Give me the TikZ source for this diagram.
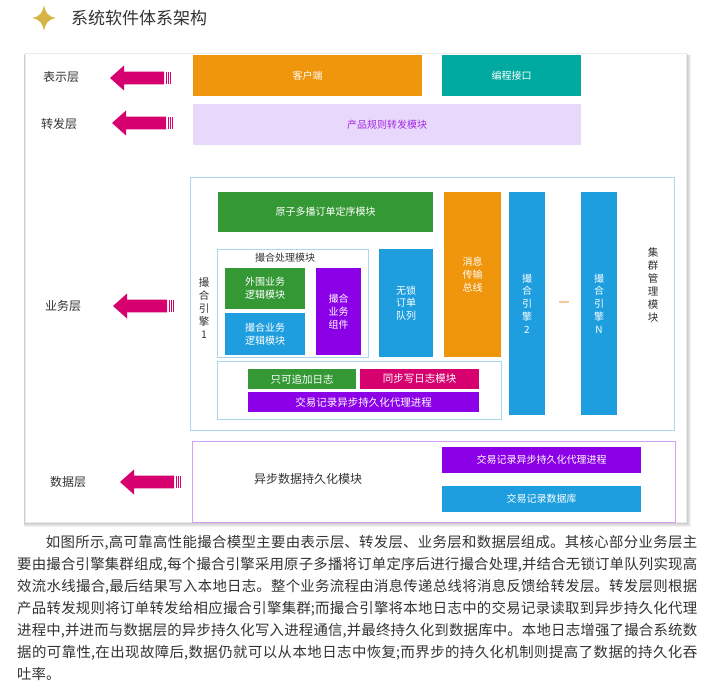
\documentclass[tikz,border=0pt]{standalone}
\usepackage{fontspec}
\setmainfont{Noto Sans CJK SC}
\XeTeXlinebreaklocale "zh"
\XeTeXlinebreakskip=0pt plus 1pt minus 0.1pt
\definecolor{textC}{RGB}{51,51,51}
\definecolor{goldC}{RGB}{214,180,70}
\definecolor{orangeC}{RGB}{239,150,12}
\definecolor{tealC}{RGB}{0,170,160}
\definecolor{lavC}{RGB}{232,216,252}
\definecolor{lavtextC}{RGB}{165,40,225}
\definecolor{greenC}{RGB}{52,152,52}
\definecolor{blueC}{RGB}{30,158,222}
\definecolor{purpleC}{RGB}{140,0,232}
\definecolor{magentaC}{RGB}{214,0,110}
\definecolor{frameC}{RGB}{170,215,235}
\definecolor{dataframeC}{RGB}{210,160,245}
\definecolor{dashC}{RGB}{250,200,150}
\tikzset{
  box/.style={inner sep=0, text=white, align=center, font=\fontsize{10}{12.8}\selectfont},
  frame/.style={draw=frameC, line width=0.8pt, inner sep=0},
  layer/.style={text=textC, font=\fontsize{12}{14}\selectfont},
  vlabel/.style={text=textC, align=center, font=\fontsize{10.5}{12.8}\selectfont},
  pics/layerarrow/.style={code={
    \fill[magentaC] (0,0) -- (14,-12.5) -- (14,-6.3) -- (54,-6.3) -- (54,6.3) -- (14,6.3) -- (14,12.5) -- cycle;
    \foreach \bx in {55.6,57.9,60.2}
      \fill[magentaC] (\bx,-6.3) rectangle ++(1.1,12.6);
  }}
}
\begin{document}
\begin{tikzpicture}[x=1pt, y=-1pt]
  \useasboundingbox (0,0) rectangle (709,690);
  \fill[white] (0,0) rectangle (709,690);
  \fill[goldC] (44,5) .. controls (45.5,13) and (48,16.5) .. (56,18) .. controls (48,19.5) and (45.5,23) .. (44,31) .. controls (42.5,23) and (40,19.5) .. (32,18) .. controls (40,16.5) and (42.5,13) .. (44,5) -- cycle;
  \node[anchor=west, inner sep=0, text=textC, font=\fontsize{17}{20}\selectfont] (title) at (71,18) {系统软件体系架构};
  % card
  \foreach \d in {1,...,5}
    \fill[black, opacity=0.05] (25-0.3*\d,53+0.4*\d) rectangle (686+\d,522+\d);
  \node[draw=black!8, fill=white, minimum width=661, minimum height=469, inner sep=0] (panel) at (355.5,287.5) {};
  % layers
  \node[layer] (lshow) at (61,77) {表示层};
  \node[layer] (lfwd) at (59,124) {转发层};
  \node[layer] (lbiz) at (63,306) {业务层};
  \node[layer] (ldata) at (68,482) {数据层};
  \pic (ashow) at (110,78) {layerarrow};
  \pic (afwd) at (112,123) {layerarrow};
  \pic (abiz) at (113,306) {layerarrow};
  \pic (adata) at (120,482) {layerarrow};
  % top rows
  \node[box, fill=orangeC, minimum width=229, minimum height=41] (client) at (307.5,75.5) {客户端};
  \node[box, fill=tealC, minimum width=139, minimum height=41] (api) at (511.5,75.5) {编程接口};
  \node[box, fill=lavC, text=lavtextC, minimum width=388, minimum height=41] (rules) at (387,124.5) {产品规则转发模块};
  % business layer
  \node[frame, minimum width=484, minimum height=253] (biz) at (432,303.5) {};
  \node[box, fill=greenC, minimum width=215, minimum height=40] (atomic) at (325.5,212) {原子多播订单定序模块};
  \node[frame, minimum width=151, minimum height=108] (proc) at (292.5,303) {};
  \node[text=textC, font=\fontsize{10}{12}\selectfont] (proctitle) at (285,258) {撮合处理模块};
  \node[box, fill=greenC, minimum width=80, minimum height=41] (periph) at (265,288.5) {外围业务\\逻辑模块};
  \node[box, fill=blueC, minimum width=80, minimum height=42] (logic) at (265,334) {撮合业务\\逻辑模块};
  \node[box, fill=purpleC, minimum width=45, minimum height=87] (comp) at (338.5,311.5) {撮合\\业务\\组件};
  \node[vlabel] (eng1) at (204,308) {撮\\合\\引\\擎\\1};
  \node[box, fill=blueC, minimum width=54, minimum height=108] (queue) at (406,303) {无锁\\订单\\队列};
  \node[box, fill=orangeC, minimum width=57, minimum height=165] (bus) at (472.5,274.5) {消息\\传输\\总线};
  \node[box, fill=blueC, minimum width=36, minimum height=223] (eng2) at (527,303.5) {撮\\合\\引\\擎\\2};
  \node[fill=dashC, minimum width=10, minimum height=1.2, inner sep=0] (gap) at (564,302) {};
  \node[box, fill=blueC, minimum width=36, minimum height=223] (engN) at (599,303.5) {撮\\合\\引\\擎\\N};
  \node[vlabel, font=\fontsize{10.5}{13}\selectfont] (cluster) at (653,285) {集\\群\\管\\理\\模\\块};
  \node[frame, minimum width=284, minimum height=58] (logs) at (359,390) {};
  \node[box, fill=greenC, minimum width=108, minimum height=20, font=\fontsize{10.5}{12}\selectfont] (append) at (302,379) {只可追加日志};
  \node[box, fill=magentaC, minimum width=119, minimum height=20, font=\fontsize{10.5}{12}\selectfont] (sync) at (419.5,379) {同步写日志模块};
  \node[box, fill=purpleC, minimum width=231, minimum height=20, font=\fontsize{10.5}{12}\selectfont] (agent) at (363.5,402) {交易记录异步持久化代理进程};
  % data layer
  \node[draw=dataframeC, line width=0.8pt, inner sep=0, minimum width=483, minimum height=81] (data) at (433.5,481.5) {};
  \node[text=textC, font=\fontsize{12}{14}\selectfont] (persist) at (308,479) {异步数据持久化模块};
  \node[box, fill=purpleC, minimum width=199, minimum height=26] (agentb) at (541.5,460) {交易记录异步持久化代理进程};
  \node[box, fill=blueC, minimum width=199, minimum height=26] (db) at (541.5,499) {交易记录数据库};
  % text
  \node[anchor=north west, inner sep=0, text width=680, align=justify, text=textC, font=\fontsize{14.4}{22}\selectfont] (para) at (17,535) {\hspace*{2em}如图所示,高可靠高性能撮合模型主要由表示层、转发层、业务层和数据层组成。其核心部分业务层主\linebreak 要由撮合引擎集群组成,每个撮合引擎采用原子多播将订单定序后进行撮合处理,并结合无锁订单队列实现高\linebreak 效流水线撮合,最后结果写入本地日志。整个业务流程由消息传递总线将消息反馈给转发层。转发层则根据\linebreak 产品转发规则将订单转发给相应撮合引擎集群;而撮合引擎将本地日志中的交易记录读取到异步持久化代理\linebreak 进程中,并进而与数据层的异步持久化写入进程通信,并最终持久化到数据库中。本地日志增强了撮合系统数\linebreak 据的可靠性,在出现故障后,数据仍就可以从本地日志中恢复;而界步的持久化机制则提高了数据的持久化吞\linebreak 吐率。};
\end{tikzpicture}
\end{document}
